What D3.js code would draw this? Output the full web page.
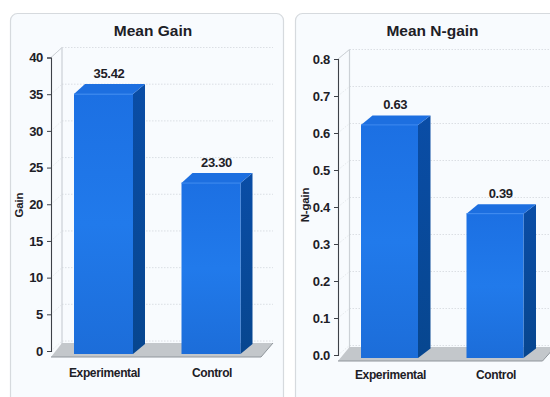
<!DOCTYPE html>
<html>
<head>
<meta charset="utf-8">
<script src="https://cdn.jsdelivr.net/npm/d3@7/dist/d3.min.js"></script>
<style>
  html, body { margin: 0; padding: 0; background: #fff; }
  svg { display: block; }
  text { font-family: "Liberation Sans", Arial, sans-serif; font-weight: 700; fill: #1d2026; }
</style>
</head>
<body>
<svg id="chart" width="550" height="397"></svg>
<script>
// Study groups and their measured means
const categories = ["Experimental", "Control"];
const gainValues = [35.42, 23.30];
const gainLabels = ["35.42", "23.30"];
const gainTicks = [0, 5, 10, 15, 20, 25, 30, 35, 40];
const ngainValues = [0.63, 0.39];
const ngainLabels = ["0.63", "0.39"];
const ngainTicks = [0, 0.1, 0.2, 0.3, 0.4, 0.5, 0.6, 0.7, 0.8];

const svg = d3.select("#chart");
const defs = svg.append("defs");

// Shading for the bar faces
const frontGrad = defs.append("linearGradient").attr("id", "barFront")
  .attr("x1", 0).attr("y1", 0).attr("x2", 0).attr("y2", 1);
[[0, "#1c70e3"], [0.5, "#217aeb"], [1, "#1c6dd9"]].forEach(([o, c]) =>
  frontGrad.append("stop").attr("offset", o).attr("stop-color", c));
const sideGrad = defs.append("linearGradient").attr("id", "barSide")
  .attr("x1", 0).attr("y1", 0).attr("x2", 0).attr("y2", 1);
[[0, "#0a4da6"], [1, "#07468f"]].forEach(([o, c]) =>
  sideGrad.append("stop").attr("offset", o).attr("stop-color", c));

const poly = pts => pts.map(p => p.join(",")).join(" ");

function drawPanel(cfg) {
  const g = svg.append("g");
  const { dx, dy } = cfg;               // oblique offset of the back wall
  const y = d3.scaleLinear().domain(cfg.domain).range(cfg.yRange);
  const x = d3.scalePoint().domain(categories).range(cfg.xCenters);

  // Card behind the plot
  g.append("rect")
    .attr("x", cfg.card[0]).attr("y", cfg.card[1])
    .attr("width", cfg.card[2]).attr("height", cfg.card[3])
    .attr("rx", 7)
    .attr("fill", "#f8fbfe").attr("stroke", "#d6dade").attr("stroke-width", 1.2);

  g.append("text")
    .attr("x", cfg.titleX).attr("y", 35.5)
    .attr("text-anchor", "middle").attr("font-size", 15.5)
    .text(cfg.title);

  // Dotted gridlines on the back wall and their diagonals on the side wall
  g.append("g").selectAll("line").data(cfg.ticks).join("line")
    .attr("x1", cfg.axisX + dx).attr("x2", cfg.wallRight)
    .attr("y1", d => y(d) - dy).attr("y2", d => y(d) - dy)
    .attr("stroke", "#d3d8dd").attr("stroke-width", 0.8)
    .attr("stroke-dasharray", "1.5 1.5");
  g.append("g").selectAll("line").data(cfg.ticks).join("line")
    .attr("x1", cfg.axisX).attr("x2", cfg.axisX + dx)
    .attr("y1", d => y(d)).attr("y2", d => y(d) - dy)
    .attr("stroke", "#dfe3e7").attr("stroke-width", 0.8)
    .attr("stroke-dasharray", "1.5 1.5");

  // Back wall edge
  g.append("line")
    .attr("x1", cfg.axisX + dx).attr("x2", cfg.axisX + dx)
    .attr("y1", y(cfg.domain[1]) - dy).attr("y2", cfg.floorFront - 13)
    .attr("stroke", "#ccd1d6").attr("stroke-width", 1.2);
  g.append("line")
    .attr("x1", cfg.axisX).attr("x2", cfg.axisX + dx)
    .attr("y1", y(cfg.domain[1])).attr("y2", y(cfg.domain[1]) - dy)
    .attr("stroke", "#ccd1d6").attr("stroke-width", 1);

  // Floor slab
  g.append("polygon")
    .attr("points", poly([
      [cfg.axisX, cfg.floorFront],
      [cfg.axisX + dx, cfg.floorFront - 14],
      [cfg.wallRight, cfg.floorFront - 14],
      [cfg.wallRight - dx - 1, cfg.floorFront],
    ]))
    .attr("fill", "#c3c7cb");
  g.append("line")
    .attr("x1", cfg.axisX).attr("x2", cfg.wallRight - dx - 1)
    .attr("y1", cfg.floorFront).attr("y2", cfg.floorFront)
    .attr("stroke", "#8f959b").attr("stroke-width", 1.2);
  g.append("line")
    .attr("x1", cfg.wallRight - dx - 1).attr("x2", cfg.wallRight)
    .attr("y1", cfg.floorFront).attr("y2", cfg.floorFront - 14)
    .attr("stroke", "#8f959b").attr("stroke-width", 1);

  // Value axis
  const axis = d3.axisLeft(y)
    .tickValues(cfg.ticks)
    .tickFormat(cfg.tickFormat)
    .tickSize(4).tickPadding(4);
  const axisG = g.append("g")
    .attr("transform", `translate(${cfg.axisX},0)`)
    .call(axis);
  axisG.select(".domain").attr("stroke", "#3d4148").attr("stroke-width", 1.1);
  axisG.selectAll(".tick line").attr("stroke", "#3d4148");
  axisG.selectAll(".tick text").attr("font-size", 13).attr("fill", "#1d2026")
    .attr("letter-spacing", -0.3)
    .attr("font-family", '"Liberation Sans", Arial, sans-serif');

  g.append("text")
    .attr("transform", `translate(${cfg.yTitleX},205) rotate(-90)`)
    .attr("text-anchor", "middle").attr("font-size", 11.5)
    .attr("letter-spacing", -0.2)
    .text(cfg.yTitle);

  // Extruded bars, the front face sitting slightly forward of the axis plane
  const base = cfg.barShift;
  const rows = cfg.values.map((v, i) => ({
    v, label: cfg.labels[i], cat: categories[i],
    left: x(categories[i]) - cfg.barWidth / 2,
    right: x(categories[i]) + cfg.barWidth / 2,
    top: y(v) + base,
    bottom: y(0) + base,
  }));
  const bars = g.append("g").selectAll("g").data(rows).join("g");
  bars.append("polygon")
    .attr("fill", "url(#barSide)")
    .attr("points", d => poly([
      [d.right, d.top], [d.right + dx + 1, d.top - dy],
      [d.right + dx + 1, d.bottom - dy], [d.right, d.bottom],
    ]));
  bars.append("polygon")
    .attr("fill", "#1d6fe0")
    .attr("points", d => poly([
      [d.left, d.top], [d.left + dx, d.top - dy],
      [d.right + dx + 1, d.top - dy], [d.right, d.top],
    ]));
  bars.append("rect")
    .attr("x", d => d.left).attr("y", d => d.top)
    .attr("width", cfg.barWidth).attr("height", d => d.bottom - d.top)
    .attr("fill", "url(#barFront)");
  bars.append("line")
    .attr("x1", d => d.left).attr("x2", d => d.right)
    .attr("y1", d => d.top).attr("y2", d => d.top)
    .attr("stroke", "#3f8bf0").attr("stroke-width", 1);
  bars.append("text")
    .attr("x", d => (d.left + d.right + dx) / 2)
    .attr("y", d => d.top - dy - 6)
    .attr("text-anchor", "middle").attr("font-size", 13)
    .attr("letter-spacing", -0.3)
    .text(d => d.label);

  // Category labels
  g.append("g").selectAll("text").data(categories).join("text")
    .attr("x", d => x(d) + 1)
    .attr("y", cfg.catY)
    .attr("text-anchor", "middle").attr("font-size", 12)
    .attr("letter-spacing", -0.35)
    .text(d => d);
}

drawPanel({
  title: "Mean Gain", titleX: 153, yTitle: "Gain", yTitleX: 23,
  values: gainValues, labels: gainLabels, ticks: gainTicks,
  domain: [0, 40], yRange: [351, 57.5], tickFormat: d3.format("d"),
  card: [10.5, 13.5, 273, 400],
  axisX: 51, dx: 11, dy: 10, wallRight: 273, floorFront: 357,
  xCenters: [103.5, 211], barWidth: 59, barShift: 3, catY: 376.5,
});

drawPanel({
  title: "Mean N-gain", titleX: 432.5, yTitle: "N-gain", yTitleX: 309,
  values: ngainValues, labels: ngainLabels, ticks: ngainTicks,
  domain: [0, 0.8], yRange: [355, 59], tickFormat: d3.format(".1f"),
  card: [295.5, 13.5, 270, 400],
  axisX: 338, dx: 11.5, dy: 9.5, wallRight: 555, floorFront: 361,
  xCenters: [389.5, 495], barWidth: 57, barShift: 3, catY: 379,
});
</script>
</body>
</html>
